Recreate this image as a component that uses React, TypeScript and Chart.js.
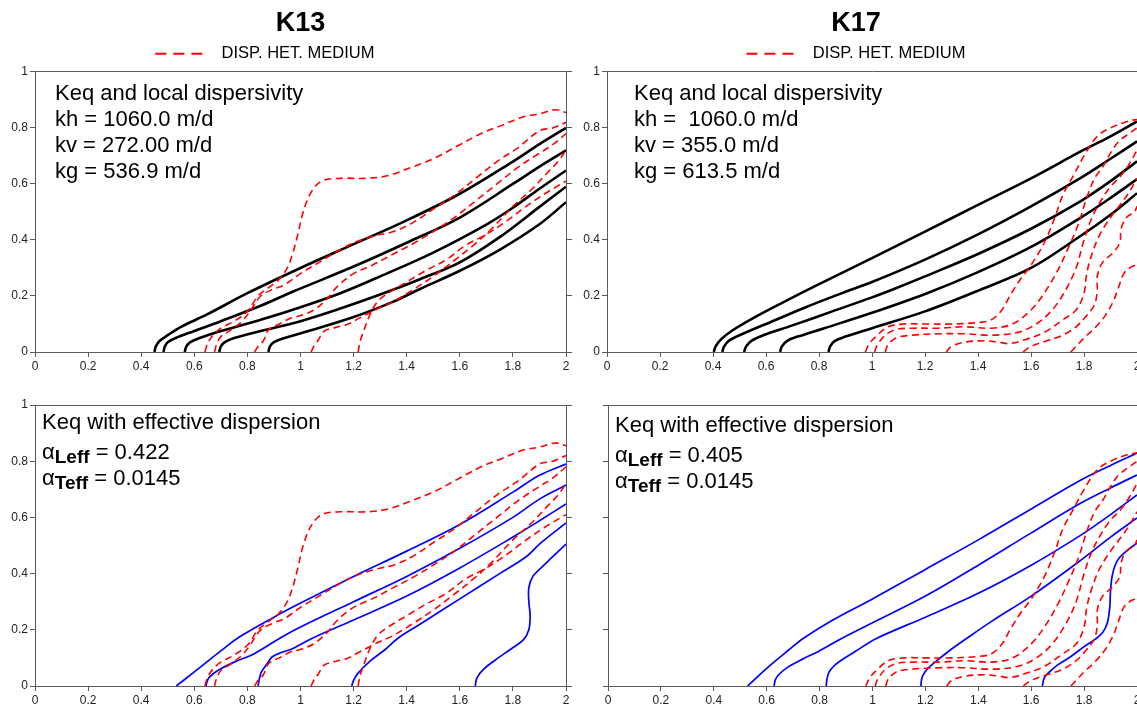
import React, { useEffect, useRef } from 'react';
import { Chart, registerables } from 'chart.js';

Chart.register(...registerables);

type Pt = [number, number];

const FONT = 'Arial, "Liberation Sans", Helvetica, sans-serif';
const AXIS_COLOR = '#5a5a5a';
const TICK_COLOR = '#222222';
const RED = '#ff0000';
const BLACK = '#000000';
const BLUE = '#0000ff';

// axis ranges / tick steps
const X_RANGE: number[] = [0, 2];
const Y_RANGE: number[] = [0, 1];
const X_STEP = 0.2;
const Y_STEP = 0.2;

const PANEL_TITLES: string[] = ['K13', 'K17'];
const LEGEND_LABEL = 'DISP. HET. MEDIUM';

const NOTE_K13_TOP: string[] = ['Keq and local dispersivity', 'kh = 1060.0 m/d', 'kv = 272.00 m/d', 'kg = 536.9 m/d'];
const NOTE_K17_TOP: string[] = ['Keq and local dispersivity', 'kh =  1060.0 m/d', 'kv = 355.0 m/d', 'kg = 613.5 m/d'];
const NOTE_BOTTOM_HEAD = 'Keq with effective dispersion';
const ALPHA_K13: string[] = [' = 0.422', ' = 0.0145'];
const ALPHA_K17: string[] = [' = 0.405', ' = 0.0145'];

// ---------------- K13: heterogeneous medium (red dashed) ----------------
const K13_HET_1: Pt[] = [[0.64, 0], [0.65, 0.03], [0.67, 0.06], [0.7, 0.085], [0.75, 0.11], [0.8, 0.145], [0.84, 0.2], [0.88, 0.23], [0.92, 0.26], [0.95, 0.3], [0.97, 0.35], [0.99, 0.42], [1.01, 0.5], [1.04, 0.57], [1.08, 0.61], [1.15, 0.62], [1.25, 0.62], [1.33, 0.63], [1.42, 0.66], [1.5, 0.69], [1.6, 0.74], [1.68, 0.78], [1.76, 0.81], [1.84, 0.84], [1.9, 0.85], [1.96, 0.865], [2.0, 0.855]];
const K13_HET_2: Pt[] = [[0.676, 0], [0.685, 0.03], [0.7, 0.055], [0.74, 0.08], [0.78, 0.11], [0.81, 0.145], [0.85, 0.2], [0.9, 0.225], [0.94, 0.24], [1.0, 0.28], [1.07, 0.32], [1.14, 0.36], [1.2, 0.39], [1.28, 0.415], [1.35, 0.43], [1.42, 0.46], [1.5, 0.51], [1.58, 0.56], [1.66, 0.62], [1.74, 0.68], [1.82, 0.73], [1.9, 0.79], [1.95, 0.8], [2.0, 0.82]];
const K13_HET_3: Pt[] = [[0.827, 0], [0.84, 0.02], [0.86, 0.04], [0.88, 0.08], [0.92, 0.1], [0.96, 0.12], [1.0, 0.13], [1.05, 0.15], [1.1, 0.19], [1.14, 0.235], [1.2, 0.28], [1.27, 0.31], [1.35, 0.35], [1.43, 0.39], [1.5, 0.43], [1.58, 0.48], [1.66, 0.54], [1.74, 0.6], [1.82, 0.66], [1.9, 0.71], [1.95, 0.74], [2.0, 0.78]];
const K13_HET_4: Pt[] = [[1.04, 0], [1.05, 0.02], [1.065, 0.04], [1.09, 0.075], [1.13, 0.087], [1.18, 0.1], [1.22, 0.12], [1.28, 0.15], [1.35, 0.18], [1.42, 0.22], [1.5, 0.27], [1.57, 0.32], [1.65, 0.38], [1.72, 0.44], [1.8, 0.52], [1.87, 0.58], [1.93, 0.64], [1.97, 0.68], [2.0, 0.72]];
const K13_HET_5: Pt[] = [[1.217, 0], [1.225, 0.04], [1.24, 0.08], [1.26, 0.13], [1.29, 0.18], [1.33, 0.21], [1.4, 0.25], [1.47, 0.29], [1.55, 0.33], [1.62, 0.38], [1.7, 0.42], [1.78, 0.47], [1.85, 0.52], [1.92, 0.565], [2.0, 0.61]];

// ---------------- K13: Keq + local dispersivity (black) ----------------
const K13_LOCAL_1: Pt[] = [[0.45, 0], [0.455, 0.02], [0.47, 0.04], [0.5, 0.06], [0.55, 0.09], [0.65, 0.135], [0.8, 0.21], [1.0, 0.3], [1.2, 0.385], [1.4, 0.47], [1.6, 0.565], [1.8, 0.68], [1.9, 0.742], [2.0, 0.8]];
const K13_LOCAL_2: Pt[] = [[0.484, 0], [0.489, 0.02], [0.5, 0.035], [0.53, 0.05], [0.6, 0.075], [0.7, 0.11], [0.85, 0.165], [0.97, 0.215], [1.2, 0.305], [1.4, 0.39], [1.6, 0.48], [1.8, 0.6], [1.9, 0.662], [2.0, 0.72]];
const K13_LOCAL_3: Pt[] = [[0.564, 0], [0.57, 0.02], [0.585, 0.035], [0.62, 0.05], [0.7, 0.075], [0.85, 0.115], [1.0, 0.16], [1.15, 0.21], [1.3, 0.27], [1.5, 0.355], [1.7, 0.455], [1.8, 0.515], [1.9, 0.583], [2.0, 0.648]];
const K13_LOCAL_4: Pt[] = [[0.694, 0], [0.7, 0.02], [0.715, 0.035], [0.75, 0.05], [0.85, 0.075], [1.0, 0.11], [1.15, 0.155], [1.3, 0.205], [1.45, 0.26], [1.6, 0.32], [1.75, 0.41], [1.9, 0.518], [2.0, 0.59]];
const K13_LOCAL_5: Pt[] = [[0.879, 0], [0.885, 0.02], [0.9, 0.035], [0.94, 0.05], [1.03, 0.075], [1.2, 0.125], [1.35, 0.18], [1.45, 0.225], [1.6, 0.29], [1.75, 0.365], [1.9, 0.456], [2.0, 0.535]];

// ---------------- K13: Keq + effective dispersion (blue) ----------------
const K13_EFF_1: Pt[] = [[0.532, 0], [0.6, 0.05], [0.7, 0.125], [0.771, 0.175], [0.9, 0.245], [1.0, 0.295], [1.2, 0.39], [1.4, 0.48], [1.6, 0.575], [1.8, 0.69], [1.9, 0.75], [2.0, 0.79]];
const K13_EFF_2: Pt[] = [[0.644, 0], [0.648, 0.015], [0.655, 0.03], [0.69, 0.056], [0.75, 0.085], [0.826, 0.115], [0.922, 0.17], [1.0, 0.21], [1.2, 0.3], [1.4, 0.39], [1.6, 0.49], [1.8, 0.6], [1.9, 0.665], [2.0, 0.715]];
const K13_EFF_3: Pt[] = [[0.84, 0], [0.845, 0.025], [0.853, 0.05], [0.875, 0.08], [0.894, 0.104], [0.93, 0.12], [0.963, 0.13], [1.045, 0.17], [1.2, 0.235], [1.4, 0.32], [1.6, 0.42], [1.8, 0.53], [1.9, 0.588], [2.0, 0.648]];
const K13_EFF_4: Pt[] = [[1.193, 0], [1.2, 0.02], [1.216, 0.045], [1.264, 0.09], [1.319, 0.13], [1.367, 0.17], [1.45, 0.22], [1.6, 0.31], [1.75, 0.4], [1.85, 0.46], [1.9, 0.505], [2.0, 0.58]];
const K13_EFF_5: Pt[] = [[1.658, 0], [1.665, 0.03], [1.69, 0.06], [1.73, 0.09], [1.79, 0.13], [1.84, 0.165], [1.86, 0.2], [1.865, 0.25], [1.86, 0.3], [1.86, 0.35], [1.875, 0.39], [1.9, 0.415], [1.95, 0.46], [2.0, 0.505]];

// ---------------- K17: heterogeneous medium (red dashed) ----------------
const K17_HET_1: Pt[] = [[0.975, 0], [0.99, 0.03], [1.02, 0.06], [1.06, 0.09], [1.12, 0.1], [1.2, 0.1], [1.3, 0.1], [1.4, 0.105], [1.45, 0.115], [1.49, 0.15], [1.52, 0.2], [1.56, 0.26], [1.6, 0.31], [1.65, 0.39], [1.69, 0.48], [1.72, 0.56], [1.76, 0.63], [1.8, 0.7], [1.85, 0.77], [1.9, 0.8], [1.97, 0.825], [2.0, 0.83]];
const K17_HET_2: Pt[] = [[1.01, 0], [1.02, 0.025], [1.05, 0.06], [1.09, 0.08], [1.15, 0.085], [1.25, 0.085], [1.35, 0.09], [1.45, 0.085], [1.53, 0.1], [1.6, 0.15], [1.65, 0.21], [1.7, 0.29], [1.74, 0.37], [1.78, 0.46], [1.81, 0.55], [1.84, 0.62], [1.87, 0.66], [1.9, 0.71], [1.93, 0.75], [1.97, 0.78], [2.0, 0.8]];
const K17_HET_3: Pt[] = [[1.05, 0], [1.06, 0.025], [1.09, 0.05], [1.15, 0.06], [1.25, 0.065], [1.35, 0.065], [1.45, 0.06], [1.55, 0.07], [1.62, 0.1], [1.68, 0.15], [1.73, 0.22], [1.77, 0.3], [1.8, 0.4], [1.83, 0.48], [1.87, 0.55], [1.9, 0.59], [1.94, 0.63], [1.97, 0.67], [2.0, 0.72]];
const K17_HET_4: Pt[] = [[1.28, 0], [1.3, 0.02], [1.35, 0.035], [1.42, 0.04], [1.48, 0.035], [1.52, 0.03], [1.58, 0.045], [1.65, 0.07], [1.72, 0.115], [1.77, 0.15], [1.8, 0.21], [1.81, 0.28], [1.83, 0.35], [1.86, 0.42], [1.9, 0.48], [1.94, 0.53], [1.97, 0.57], [2.0, 0.62]];
const K17_HET_5: Pt[] = [[1.57, 0], [1.6, 0.02], [1.66, 0.04], [1.72, 0.06], [1.77, 0.09], [1.81, 0.13], [1.84, 0.17], [1.85, 0.22], [1.85, 0.27], [1.87, 0.32], [1.91, 0.355], [1.935, 0.39], [1.94, 0.44], [1.96, 0.48], [1.99, 0.5], [2.0, 0.52]];
const K17_HET_6: Pt[] = [[1.75, 0], [1.77, 0.02], [1.8, 0.05], [1.84, 0.085], [1.88, 0.13], [1.91, 0.18], [1.93, 0.23], [1.95, 0.28], [1.98, 0.305], [2.0, 0.31]];

// ---------------- K17: Keq + local dispersivity (black) ----------------
const K17_LOCAL_1: Pt[] = [[0.403, 0], [0.41, 0.02], [0.43, 0.045], [0.47, 0.075], [0.55, 0.12], [0.65, 0.17], [0.785, 0.235], [1.0, 0.335], [1.2, 0.43], [1.4, 0.525], [1.6, 0.62], [1.788, 0.716], [1.9, 0.77], [2.0, 0.823]];
const K17_LOCAL_2: Pt[] = [[0.435, 0], [0.442, 0.02], [0.46, 0.04], [0.5, 0.06], [0.6, 0.1], [0.75, 0.16], [0.9, 0.215], [1.0, 0.25], [1.2, 0.33], [1.4, 0.42], [1.6, 0.52], [1.788, 0.622], [1.9, 0.69], [2.0, 0.752]];
const K17_LOCAL_3: Pt[] = [[0.517, 0], [0.525, 0.02], [0.545, 0.04], [0.59, 0.06], [0.7, 0.095], [0.85, 0.145], [1.0, 0.195], [1.083, 0.225], [1.2, 0.27], [1.4, 0.35], [1.6, 0.44], [1.788, 0.539], [1.9, 0.61], [2.0, 0.681]];
const K17_LOCAL_4: Pt[] = [[0.653, 0], [0.66, 0.02], [0.68, 0.04], [0.72, 0.055], [0.82, 0.085], [1.0, 0.14], [1.208, 0.21], [1.4, 0.285], [1.6, 0.375], [1.788, 0.48], [1.9, 0.55], [2.0, 0.617]];
const K17_LOCAL_5: Pt[] = [[0.836, 0], [0.842, 0.02], [0.86, 0.04], [0.9, 0.055], [1.0, 0.085], [1.2, 0.145], [1.403, 0.22], [1.6, 0.3], [1.788, 0.415], [1.9, 0.49], [2.0, 0.567]];

// ---------------- K17: Keq + effective dispersion (blue) ----------------
const K17_EFF_1: Pt[] = [[0.528, 0], [0.6, 0.063], [0.683, 0.128], [0.739, 0.17], [0.85, 0.235], [1.0, 0.31], [1.2, 0.415], [1.4, 0.52], [1.6, 0.63], [1.788, 0.733], [1.9, 0.785], [2.0, 0.829]];
const K17_EFF_2: Pt[] = [[0.628, 0], [0.632, 0.02], [0.645, 0.04], [0.683, 0.069], [0.74, 0.098], [0.794, 0.122], [0.885, 0.17], [1.0, 0.225], [1.2, 0.32], [1.4, 0.43], [1.6, 0.545], [1.788, 0.651], [1.9, 0.705], [2.0, 0.751]];
const K17_EFF_3: Pt[] = [[0.825, 0], [0.828, 0.025], [0.836, 0.05], [0.855, 0.072], [0.878, 0.089], [0.933, 0.122], [1.017, 0.17], [1.2, 0.245], [1.4, 0.33], [1.6, 0.43], [1.788, 0.537], [1.9, 0.61], [2.0, 0.68]];
const K17_EFF_4: Pt[] = [[1.183, 0], [1.185, 0.02], [1.19, 0.037], [1.205, 0.058], [1.225, 0.076], [1.294, 0.128], [1.357, 0.17], [1.45, 0.23], [1.6, 0.32], [1.788, 0.448], [1.9, 0.53], [2.0, 0.598]];
const K17_EFF_5: Pt[] = [[1.642, 0], [1.65, 0.03], [1.669, 0.05], [1.7, 0.075], [1.75, 0.105], [1.8, 0.14], [1.84, 0.165], [1.87, 0.19], [1.888, 0.225], [1.897, 0.28], [1.9, 0.34], [1.908, 0.4], [1.927, 0.448], [1.965, 0.484], [2.0, 0.508]];

const K13_HET: Pt[][] = [K13_HET_1, K13_HET_2, K13_HET_3, K13_HET_4, K13_HET_5];
const K17_HET: Pt[][] = [K17_HET_1, K17_HET_2, K17_HET_3, K17_HET_4, K17_HET_5, K17_HET_6];
const K13_LOCAL: Pt[][] = [K13_LOCAL_1, K13_LOCAL_2, K13_LOCAL_3, K13_LOCAL_4, K13_LOCAL_5];
const K17_LOCAL: Pt[][] = [K17_LOCAL_1, K17_LOCAL_2, K17_LOCAL_3, K17_LOCAL_4, K17_LOCAL_5];
const K13_EFF: Pt[][] = [K13_EFF_1, K13_EFF_2, K13_EFF_3, K13_EFF_4, K13_EFF_5];
const K17_EFF: Pt[][] = [K17_EFF_1, K17_EFF_2, K17_EFF_3, K17_EFF_4, K17_EFF_5];

type Seg = { text: string; size: number; bold?: boolean; dy?: number };
type NoteLine = { x: number; y: number; segs: Seg[] };

interface Panel {
  key: string;
  left: number;
  top: number;
  width: number;
  height: number;
  title?: string;
  legendSpacer?: string;
  padTop: number;
  yAxisW: number;
  xAxisH: number;
  yLabels: boolean;
  red: Pt[][];
  solid: Pt[][];
  solidColor: string;
  solidWidth: number;
  solidLabel: string;
  notes: NoteLine[];
}

const plainNotes = (texts: string[], x: number, y0: number, gap: number): NoteLine[] =>
  texts.map((t, i) => ({ x, y: y0 + i * gap, segs: [{ text: t, size: 22 }] }));

const effNotes = (vals: string[], x: number, y0: number): NoteLine[] => [
  { x, y: y0, segs: [{ text: NOTE_BOTTOM_HEAD, size: 22 }] },
  { x, y: y0 + 30, segs: [{ text: 'α', size: 22 }, { text: 'Leff', size: 19, bold: true, dy: 5 }, { text: vals[0], size: 22 }] },
  { x, y: y0 + 56, segs: [{ text: 'α', size: 22 }, { text: 'Teff', size: 19, bold: true, dy: 5 }, { text: vals[1], size: 22 }] },
];

const PANELS: Panel[] = [
  {
    key: 'k13-top', left: 0, top: 0, width: 601, height: 380, title: PANEL_TITLES[0], legendSpacer: '',
    padTop: 0, yAxisW: 35, xAxisH: 28, yLabels: true,
    red: K13_HET, solid: K13_LOCAL, solidColor: BLACK, solidWidth: 2.6, solidLabel: 'Keq and local dispersivity',
    notes: plainNotes(NOTE_K13_TOP, 20, 22, 26),
  },
  {
    key: 'k17-top', left: 540, top: 0, width: 632, height: 380, title: PANEL_TITLES[1],
    padTop: 0, yAxisW: 67, xAxisH: 28, yLabels: true,
    red: K17_HET, solid: K17_LOCAL, solidColor: BLACK, solidWidth: 2.6, solidLabel: 'Keq and local dispersivity',
    notes: plainNotes(NOTE_K17_TOP, 27, 22, 26),
  },
  {
    key: 'k13-bottom', left: 0, top: 380, width: 601, height: 330,
    padTop: 25, yAxisW: 35, xAxisH: 24, yLabels: true,
    red: K13_HET, solid: K13_EFF, solidColor: BLUE, solidWidth: 1.7, solidLabel: 'Keq with effective dispersion',
    notes: effNotes(ALPHA_K13, 7, 18),
  },
  {
    key: 'k17-bottom', left: 560, top: 380, width: 612, height: 330,
    padTop: 25, yAxisW: 48, xAxisH: 24, yLabels: false,
    red: K17_HET, solid: K17_EFF, solidColor: BLUE, solidWidth: 1.7, solidLabel: 'Keq with effective dispersion',
    notes: effNotes(ALPHA_K17, 7, 21),
  },
];

const toXY = (pts: Pt[]) => pts.map(([x, y]) => ({ x, y }));
const fmtTick = (v: any) => String(Math.round(Number(v) * 10) / 10);

function buildConfig(p: Panel): any {
  const datasets: any[] = [
    ...p.red.map((d) => ({
      label: LEGEND_LABEL,
      data: toXY(d),
      borderColor: RED,
      backgroundColor: RED,
      borderWidth: 1.6,
      borderDash: [7, 4.5],
      pointRadius: 0,
      showLine: true,
      tension: 0.35,
      fill: false,
    })),
    ...p.solid.map((d) => ({
      label: p.solidLabel,
      data: toXY(d),
      borderColor: p.solidColor,
      backgroundColor: p.solidColor,
      borderWidth: p.solidWidth,
      pointRadius: 0,
      showLine: true,
      tension: 0.35,
      fill: false,
    })),
  ];

  const tickFont = { family: FONT, size: 12 };
  const notesPlugin = {
    id: 'notes-' + p.key,
    afterDraw(chart: any) {
      const { ctx, chartArea } = chart;
      ctx.save();
      ctx.fillStyle = '#000';
      ctx.textBaseline = 'middle';
      ctx.textAlign = 'left';
      p.notes.forEach((line) => {
        let x = chartArea.left + line.x;
        const y = chartArea.top + line.y;
        line.segs.forEach((s) => {
          ctx.font = `${s.bold ? 'bold ' : ''}${s.size}px ${FONT}`;
          ctx.fillText(s.text, x, y + (s.dy || 0));
          x += ctx.measureText(s.text).width;
        });
      });
      ctx.restore();
    },
  };

  const legendItems: any[] = [
    {
      text: LEGEND_LABEL,
      fillStyle: 'rgba(0,0,0,0)',
      strokeStyle: RED,
      fontColor: '#000',
      lineWidth: 2,
      lineDash: [11, 7, 11, 7, 11, 11],
      lineDashOffset: 0,
      pointStyle: 'line',
      hidden: false,
      datasetIndex: 0,
    },
  ];
  if (p.legendSpacer !== undefined) {
    legendItems.push({
      text: p.legendSpacer,
      fillStyle: 'rgba(0,0,0,0)',
      strokeStyle: 'rgba(0,0,0,0)',
      fontColor: 'rgba(0,0,0,0)',
      lineWidth: 0,
      pointStyle: 'line',
      hidden: false,
      datasetIndex: 1,
    });
  }

  return {
    type: 'scatter',
    data: { datasets },
    plugins: [notesPlugin],
    options: {
      responsive: false,
      animation: false,
      events: [],
      layout: { padding: { top: p.padTop, left: 0, right: 0, bottom: 0 } },
      plugins: {
        tooltip: { enabled: false },
        title: {
          display: !!p.title,
          text: p.title || '',
          color: '#000',
          font: { family: FONT, size: 27, weight: 'bold', lineHeight: 1.2 },
          padding: { top: 7, bottom: 1 },
        },
        legend: {
          display: !!p.title,
          position: 'top',
          align: 'center',
          labels: {
            usePointStyle: true,
            pointStyle: 'line',
            pointStyleWidth: 58,
            padding: 5,
            color: '#000',
            font: { family: FONT, size: 16.5 },
            generateLabels: () => legendItems,
          },
        },
      },
      scales: {
        x: {
          type: 'linear',
          position: 'bottom',
          min: X_RANGE[0],
          max: X_RANGE[1],
          ticks: { stepSize: X_STEP, color: TICK_COLOR, font: tickFont, padding: 2, maxRotation: 0, autoSkip: false, callback: fmtTick },
          grid: { drawOnChartArea: false, drawTicks: true, tickLength: 5, color: AXIS_COLOR },
          border: { color: AXIS_COLOR, width: 1 },
          afterFit: (s: any) => { s.height = p.xAxisH; },
        },
        y: {
          type: 'linear',
          position: 'left',
          min: Y_RANGE[0],
          max: Y_RANGE[1],
          ticks: { stepSize: Y_STEP, display: p.yLabels, color: TICK_COLOR, font: tickFont, padding: 2, callback: fmtTick },
          grid: { drawOnChartArea: false, drawTicks: true, tickLength: 5, color: AXIS_COLOR },
          border: { color: AXIS_COLOR, width: 1 },
          afterFit: (s: any) => { s.width = p.yAxisW; },
        },
        xTop: {
          type: 'linear',
          position: 'top',
          min: X_RANGE[0],
          max: X_RANGE[1],
          ticks: { display: false },
          grid: { display: false, drawTicks: false },
          border: { color: AXIS_COLOR, width: 1 },
          afterFit: (s: any) => { s.height = 0; },
        },
        yRight: {
          type: 'linear',
          position: 'right',
          min: Y_RANGE[0],
          max: Y_RANGE[1],
          ticks: { stepSize: Y_STEP, display: false },
          grid: { drawOnChartArea: false, drawTicks: true, tickLength: 6, color: AXIS_COLOR },
          border: { color: AXIS_COLOR, width: 1 },
          afterFit: (s: any) => { s.width = 35; },
        },
      },
    },
  };
}

function PanelChart({ panel }: { panel: Panel }) {
  const ref = useRef<HTMLCanvasElement | null>(null);
  useEffect(() => {
    const canvas = ref.current;
    if (!canvas) return;
    const chart = new Chart(canvas, buildConfig(panel));
    return () => chart.destroy();
  }, [panel]);
  return (
    <canvas
      ref={ref}
      width={panel.width}
      height={panel.height}
      style={{ position: 'absolute', left: panel.left, top: panel.top, width: panel.width, height: panel.height }}
    />
  );
}

export default function App() {
  return (
    <div style={{ position: 'fixed', left: 0, top: 0, width: 1137, height: 710, overflow: 'hidden', background: '#ffffff' }}>
      {PANELS.map((p) => (
        <PanelChart key={p.key} panel={p} />
      ))}
    </div>
  );
}
